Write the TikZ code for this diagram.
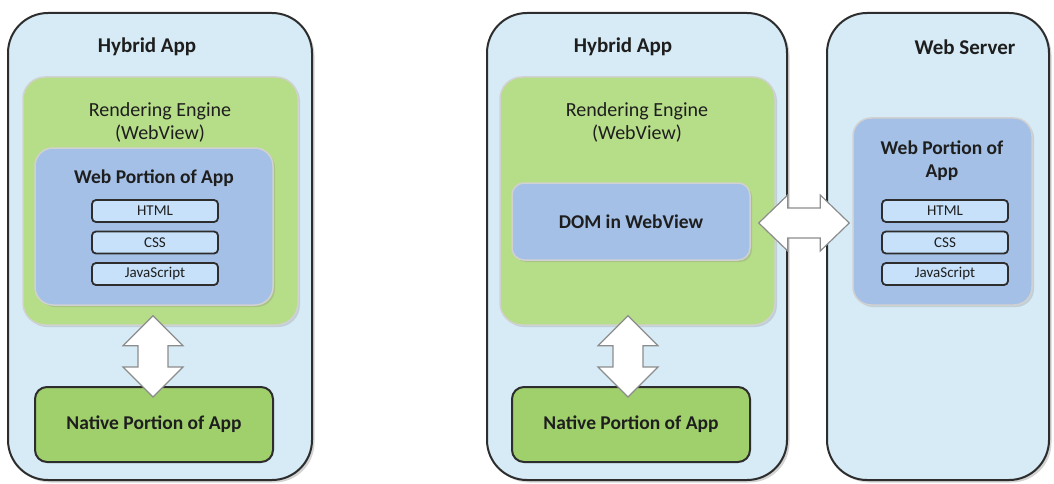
\documentclass[tikz,border=0pt]{standalone}
\usepackage{fontspec}
\setmainfont{Carlito}
\usetikzlibrary{arrows.meta,positioning,shadows,calc}
\usepackage{xcolor}
\definecolor{hapanel}{RGB}{214,235,246}
\definecolor{haengine}{RGB}{182,221,136}
\definecolor{hanative}{RGB}{160,208,108}
\definecolor{haweb}{RGB}{164,192,230}
\definecolor{hafile}{RGB}{198,225,249}
\definecolor{hadark}{RGB}{45,45,45}
\definecolor{hatext}{RGB}{30,30,30}
\tikzset{
    panel/.style={
        draw=hadark,line width=2pt,rounded corners=40pt,fill=hapanel,
        minimum height=467pt,inner sep=0pt,
        drop shadow={shadow xshift=2.5pt,shadow yshift=-2.5pt,opacity=0.35}
    },
    engine/.style={
        draw=black!18,line width=1.5pt,rounded corners=22pt,fill=haengine,
        minimum width=275pt,minimum height=248pt,inner sep=0pt,
        drop shadow={shadow xshift=2pt,shadow yshift=-2pt,opacity=0.25}
    },
    webpart/.style={
        draw=black!18,line width=1.5pt,rounded corners=18pt,fill=haweb,
        inner sep=0pt,
        drop shadow={shadow xshift=2pt,shadow yshift=-2pt,opacity=0.25}
    },
    native/.style={
        draw=hadark,line width=2pt,rounded corners=12pt,fill=hanative,
        minimum width=238pt,minimum height=75pt,inner sep=0pt,
        text=hatext,font=\fontsize{19.5}{23}\selectfont\bfseries
    },
    filebox/.style={
        draw=hadark,line width=1.8pt,rounded corners=4pt,fill=hafile,
        minimum width=126pt,minimum height=22pt,inner sep=0pt,
        text=hatext,font=\fontsize{15}{16}\selectfont
    },
    title/.style={text=hatext,font=\fontsize{21}{24}\selectfont\bfseries},
    sub/.style={text=hatext,align=center,font=\fontsize{20}{23}\selectfont},
    dblarrow/.style={
        draw=black!45,line width=1.2pt,fill=white,line join=miter
    }
}

\begin{document}
\begin{tikzpicture}[x=1pt,y=-1pt]
\useasboundingbox (0,0) rectangle (1054,484);

% panels
\node[panel,minimum width=304pt] (p1) at (160,246.5) {};
\node[panel,minimum width=300pt] (p2) at (637,246.5) {};
\node[panel,minimum width=222pt] (p3) at (938,246.5) {};

\node[title] (t1) at (147,47) {Hybrid App};
\node[title] (t2) at (623,47) {Hybrid App};
\node[title] (t3) at (965,47) {Web Server};

% left: app with bundled web portion
\node[engine] (e1) at (160.5,201) {};
\node[sub] (r1) at (160,122) {Rendering Engine\\(WebView)};
\node[webpart,minimum width=238pt,minimum height=157pt] (w1) at (154,226.5) {};
\node[sub,font=\fontsize{19.5}{23}\selectfont\bfseries] (wt1) at (154,178) {Web Portion of App};
\node[filebox] (h1) at (155,211) {HTML};
\node[filebox] (c1) at (155,242.5) {CSS};
\node[filebox] (j1) at (155,274) {JavaScript};
\node[native] (n1) at (154,424.5) {Native Portion of App};

% middle: app with DOM only
\node[engine] (e2) at (637.5,201) {};
\node[sub] (r2) at (637,122) {Rendering Engine\\(WebView)};
\node[webpart,rounded corners=12pt,minimum width=238pt,minimum height=77pt,
  text=hatext,font=\fontsize{19.5}{23}\selectfont\bfseries] (dom) at (631,221.5) {DOM in WebView};
\node[native] (n2) at (631,424.5) {Native Portion of App};

% right: server side web portion
\node[webpart,minimum width=179pt,minimum height=187pt] (w2) at (942.5,211.5) {};
\node[sub,font=\fontsize{19.5}{23}\selectfont\bfseries] (wt2) at (942,161) {Web Portion of\\App};
\node[filebox] (h2) at (945,211) {HTML};
\node[filebox] (c2) at (945,242.5) {CSS};
\node[filebox] (j2) at (945,274) {JavaScript};

% double arrows
\coordinate (a1t) at ($(e1.south -| n1.north)+(-1,-10)$);
\coordinate (a1b) at ($(n1.north)+(-1,11)$);
\draw[dblarrow] (a1t) -- ++(30,30) -- ++(-15,0) -- ($(a1b)+(15,-30)$) -- ++(15,0)
  -- (a1b) -- ++(-30,-30) -- ++(15,0) -- ($(a1t)+(-15,30)$) -- ++(-15,0) -- cycle;

\coordinate (a2t) at ($(e2.south -| n2.north)+(-3,-10)$);
\coordinate (a2b) at ($(n2.north)+(-3,11)$);
\draw[dblarrow] (a2t) -- ++(30,30) -- ++(-15,0) -- ($(a2b)+(15,-30)$) -- ++(15,0)
  -- (a2b) -- ++(-30,-30) -- ++(15,0) -- ($(a2t)+(-15,30)$) -- ++(-15,0) -- cycle;

\coordinate (a3l) at ($(dom.east)+(8,1.5)$);
\coordinate (a3r) at ($(w2.west |- dom.east)+(-3,1.5)$);
\draw[dblarrow] (a3l) -- ++(29,-28) -- ++(0,13) -- ($(a3r)+(-29,-15)$) -- ++(0,-13)
  -- (a3r) -- ++(-29,28) -- ++(0,-13) -- ($(a3l)+(29,15)$) -- ++(0,13) -- cycle;

\end{tikzpicture}
\end{document}
